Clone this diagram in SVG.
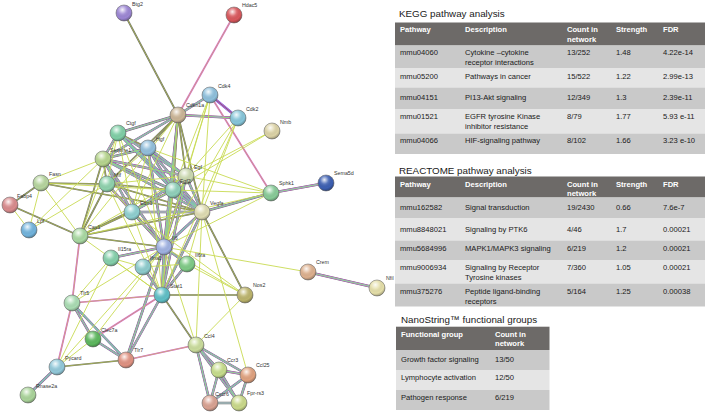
<svg xmlns="http://www.w3.org/2000/svg" width="706" height="415" viewBox="0 0 706 415">
<style>
.lbl{font-family:"Liberation Sans",Arial,sans-serif;font-size:5.3px;fill:#333}
.ttl{font-family:"Liberation Sans",Arial,sans-serif;font-size:9.8px;fill:#1a1a1a}
.th{font-family:"Liberation Sans",Arial,sans-serif;font-weight:bold;font-size:7.6px;fill:#fff}
.td{font-family:"Liberation Sans",Arial,sans-serif;font-size:7.6px;fill:#1a1a1a}
.hd{fill:#6d6a68}.rd{fill:#c9c9c9}.rl{fill:#e5e5e5}
.b{stroke:#6a6a6a;stroke-width:.6}
.shine{fill:url(#sh)}
.k4{stroke:#6a6a6a;stroke-width:2.5;fill:none}
.k2{stroke:#6a6a6a;stroke-width:1.7;fill:none}
.m2{stroke:#d85ad8;stroke-width:1.7;fill:none}
.m3{stroke:#d85ad8;stroke-width:1.8;fill:none}
.c2{stroke:#4cc8e2;stroke-width:1.1;fill:none}
.b4{stroke:#6262da;stroke-width:2.8;fill:none}
.k1{stroke:#6a6a6a;stroke-width:.9;fill:none}
.y{stroke:#c6d84a;stroke-width:.6;fill:none}
.y1{stroke:#c8da52;stroke-width:.9;fill:none}
</style>
<defs>
<radialGradient id="sh" cx="0.4" cy="0.3" r="0.75">
<stop offset="0" stop-color="#fff" stop-opacity="0.9"/>
<stop offset="0.35" stop-color="#fff" stop-opacity="0.15"/>
<stop offset="0.7" stop-color="#000" stop-opacity="0"/>
<stop offset="1" stop-color="#000" stop-opacity="0.35"/>
</radialGradient>
</defs>
<rect width="706" height="415" fill="#fff"/>
<g id="connectors">
<g class="k4"><g id="E-m">
<line x1="178" y1="115" x2="210" y2="95"/>
<line x1="178" y1="115" x2="238" y2="118"/>
<line x1="178" y1="115" x2="118" y2="133"/>
<line x1="178" y1="115" x2="103" y2="159"/>
<line x1="178" y1="115" x2="164" y2="247"/>
<line x1="178" y1="115" x2="162" y2="295"/>
<line x1="271" y1="193" x2="326" y2="183"/>
<line x1="271" y1="193" x2="202" y2="212"/>
<line x1="118" y1="133" x2="103" y2="159"/>
<line x1="118" y1="133" x2="186" y2="176"/>
<line x1="118" y1="133" x2="173" y2="190"/>
<line x1="118" y1="133" x2="202" y2="212"/>
<line x1="148" y1="148" x2="103" y2="159"/>
<line x1="148" y1="148" x2="186" y2="176"/>
<line x1="148" y1="148" x2="173" y2="190"/>
<line x1="148" y1="148" x2="202" y2="212"/>
<line x1="148" y1="148" x2="164" y2="247"/>
<line x1="103" y1="159" x2="186" y2="176"/>
<line x1="103" y1="159" x2="173" y2="190"/>
<line x1="103" y1="159" x2="202" y2="212"/>
<line x1="103" y1="159" x2="132" y2="212"/>
<line x1="103" y1="159" x2="164" y2="247"/>
<line x1="107" y1="184" x2="164" y2="247"/>
<line x1="186" y1="176" x2="173" y2="190"/>
<line x1="186" y1="176" x2="202" y2="212"/>
<line x1="186" y1="176" x2="132" y2="212"/>
<line x1="186" y1="176" x2="164" y2="247"/>
<line x1="186" y1="176" x2="162" y2="295"/>
<line x1="173" y1="190" x2="202" y2="212"/>
<line x1="173" y1="190" x2="132" y2="212"/>
<line x1="173" y1="190" x2="164" y2="247"/>
<line x1="132" y1="212" x2="202" y2="212"/>
<line x1="132" y1="212" x2="164" y2="247"/>
<line x1="202" y1="212" x2="164" y2="247"/>
<line x1="202" y1="212" x2="162" y2="295"/>
<line x1="164" y1="247" x2="187" y2="264"/>
<line x1="164" y1="247" x2="162" y2="295"/>
<line x1="164" y1="247" x2="111" y2="258"/>
<line x1="164" y1="247" x2="143" y2="267"/>
<line x1="164" y1="247" x2="126" y2="360"/>
<line x1="187" y1="264" x2="162" y2="295"/>
<line x1="143" y1="267" x2="162" y2="295"/>
<line x1="162" y1="295" x2="126" y2="360"/>
<line x1="196" y1="345" x2="219" y2="370"/>
<line x1="196" y1="345" x2="248" y2="375"/>
<line x1="196" y1="345" x2="210" y2="403"/>
<line x1="196" y1="345" x2="239" y2="403"/>
<line x1="219" y1="370" x2="248" y2="375"/>
<line x1="219" y1="370" x2="210" y2="403"/>
<line x1="219" y1="370" x2="239" y2="403"/>
<line x1="248" y1="375" x2="239" y2="403"/>
<line x1="248" y1="375" x2="210" y2="403"/>
<line x1="210" y1="403" x2="239" y2="403"/>
<line x1="72" y1="303" x2="93" y2="339"/>
<line x1="72" y1="303" x2="126" y2="360"/>
<line x1="93" y1="339" x2="126" y2="360"/>
<line x1="57" y1="367" x2="28" y2="395"/>
<line x1="308" y1="272" x2="377" y2="288"/>
</g></g>
<g class="k2"><g id="E-tc">
<line x1="124" y1="13" x2="178" y2="115"/>
<line x1="178" y1="115" x2="148" y2="148"/>
<line x1="178" y1="115" x2="107" y2="184"/>
<line x1="178" y1="115" x2="186" y2="176"/>
<line x1="178" y1="115" x2="173" y2="190"/>
<line x1="178" y1="115" x2="202" y2="212"/>
<line x1="118" y1="133" x2="148" y2="148"/>
<line x1="103" y1="159" x2="107" y2="184"/>
<line x1="103" y1="159" x2="80" y2="236"/>
<line x1="107" y1="184" x2="173" y2="190"/>
<line x1="107" y1="184" x2="202" y2="212"/>
<line x1="107" y1="184" x2="80" y2="236"/>
<line x1="107" y1="184" x2="41" y2="183"/>
<line x1="173" y1="190" x2="80" y2="236"/>
<line x1="132" y1="212" x2="80" y2="236"/>
<line x1="202" y1="212" x2="80" y2="236"/>
<line x1="202" y1="212" x2="245" y2="295"/>
<line x1="10" y1="205" x2="80" y2="236"/>
<line x1="41" y1="183" x2="202" y2="212"/>
<line x1="10" y1="205" x2="41" y2="183"/>
<line x1="164" y1="247" x2="80" y2="236"/>
<line x1="162" y1="295" x2="245" y2="295"/>
<line x1="162" y1="295" x2="196" y2="345"/>
<line x1="126" y1="360" x2="57" y2="367"/>
</g></g>
<g class="m2"><g id="E-tm">
<line x1="234" y1="15" x2="178" y2="115"/>
<line x1="210" y1="95" x2="271" y2="193"/>
<line x1="162" y1="295" x2="72" y2="303"/>
<line x1="162" y1="295" x2="93" y2="339"/>
<line x1="196" y1="345" x2="126" y2="360"/>
<line x1="72" y1="303" x2="57" y2="367"/>
<line x1="80" y1="236" x2="72" y2="303"/>
</g></g>
<g class="b4"><g id="E-mb">
<line x1="210" y1="95" x2="238" y2="118"/>
</g></g>
<use href="#E-m" class="m3"/>
<use href="#E-mb" class="m3"/>
<use href="#E-m" class="c2"/>
<use href="#E-mb" class="k1"/>
<use href="#E-m" class="y"/>
<use href="#E-tc" class="y"/>
<use href="#E-tm" class="y"/>
<g class="y1"><g id="E-t">
<line x1="178" y1="115" x2="132" y2="212"/>
<line x1="178" y1="115" x2="80" y2="236"/>
<line x1="210" y1="95" x2="186" y2="176"/>
<line x1="210" y1="95" x2="173" y2="190"/>
<line x1="210" y1="95" x2="202" y2="212"/>
<line x1="210" y1="95" x2="164" y2="247"/>
<line x1="238" y1="118" x2="202" y2="212"/>
<line x1="238" y1="118" x2="186" y2="176"/>
<line x1="238" y1="118" x2="164" y2="247"/>
<line x1="238" y1="118" x2="162" y2="295"/>
<line x1="272" y1="131" x2="186" y2="176"/>
<line x1="272" y1="131" x2="173" y2="190"/>
<line x1="271" y1="193" x2="186" y2="176"/>
<line x1="271" y1="193" x2="173" y2="190"/>
<line x1="271" y1="193" x2="164" y2="247"/>
<line x1="271" y1="193" x2="80" y2="236"/>
<line x1="271" y1="193" x2="148" y2="148"/>
<line x1="118" y1="133" x2="107" y2="184"/>
<line x1="118" y1="133" x2="132" y2="212"/>
<line x1="118" y1="133" x2="164" y2="247"/>
<line x1="118" y1="133" x2="80" y2="236"/>
<line x1="148" y1="148" x2="107" y2="184"/>
<line x1="148" y1="148" x2="132" y2="212"/>
<line x1="148" y1="148" x2="162" y2="295"/>
<line x1="103" y1="159" x2="29" y2="230"/>
<line x1="103" y1="159" x2="41" y2="183"/>
<line x1="107" y1="184" x2="186" y2="176"/>
<line x1="107" y1="184" x2="132" y2="212"/>
<line x1="107" y1="184" x2="162" y2="295"/>
<line x1="186" y1="176" x2="80" y2="236"/>
<line x1="173" y1="190" x2="162" y2="295"/>
<line x1="132" y1="212" x2="162" y2="295"/>
<line x1="132" y1="212" x2="245" y2="295"/>
<line x1="202" y1="212" x2="187" y2="264"/>
<line x1="202" y1="212" x2="196" y2="345"/>
<line x1="164" y1="247" x2="245" y2="295"/>
<line x1="164" y1="247" x2="308" y2="272"/>
<line x1="164" y1="247" x2="196" y2="345"/>
<line x1="164" y1="247" x2="72" y2="303"/>
<line x1="164" y1="247" x2="93" y2="339"/>
<line x1="164" y1="247" x2="57" y2="367"/>
<line x1="187" y1="264" x2="245" y2="295"/>
<line x1="187" y1="264" x2="143" y2="267"/>
<line x1="111" y1="258" x2="143" y2="267"/>
<line x1="111" y1="258" x2="162" y2="295"/>
<line x1="111" y1="258" x2="72" y2="303"/>
<line x1="162" y1="295" x2="80" y2="236"/>
<line x1="245" y1="295" x2="196" y2="345"/>
<line x1="248" y1="375" x2="202" y2="212"/>
<line x1="93" y1="339" x2="57" y2="367"/>
<line x1="57" y1="367" x2="111" y2="258"/>
<line x1="10" y1="205" x2="29" y2="230"/>
<line x1="41" y1="183" x2="29" y2="230"/>
<line x1="41" y1="183" x2="80" y2="236"/>
<line x1="41" y1="183" x2="173" y2="190"/>
<line x1="29" y1="230" x2="107" y2="184"/>
</g></g>
</g>
<g id="nodes">
<g id="node-Btg2"><circle class="b" cx="124" cy="13" r="8" fill="#9c86d4"/><circle class="shine" cx="124" cy="13" r="8"/><text class="lbl" x="132" y="6">Btg2</text></g>
<g id="node-Hdac5"><circle class="b" cx="234" cy="15" r="8" fill="#d9575c"/><circle class="shine" cx="234" cy="15" r="8"/><text class="lbl" x="242" y="7">Hdac5</text></g>
<g id="node-Cdkn1a"><circle class="b" cx="178" cy="115" r="8" fill="#cbb596"/><circle class="shine" cx="178" cy="115" r="8"/><text class="lbl" x="186" y="107">Cdkn1a</text></g>
<g id="node-Cdk4"><circle class="b" cx="210" cy="95" r="8" fill="#8ec0dc"/><circle class="shine" cx="210" cy="95" r="8"/><text class="lbl" x="218" y="88">Cdk4</text></g>
<g id="node-Cdk2"><circle class="b" cx="238" cy="118" r="8" fill="#86c6da"/><circle class="shine" cx="238" cy="118" r="8"/><text class="lbl" x="246" y="111">Cdk2</text></g>
<g id="node-Nmb"><circle class="b" cx="272" cy="131" r="8" fill="#dcd3a6"/><circle class="shine" cx="272" cy="131" r="8"/><text class="lbl" x="280" y="124">Nmb</text></g>
<g id="node-Ctgf"><circle class="b" cx="118" cy="133" r="8" fill="#7fcfa6"/><circle class="shine" cx="118" cy="133" r="8"/><text class="lbl" x="126" y="125">Ctgf</text></g>
<g id="node-Hgf"><circle class="b" cx="148" cy="148" r="8" fill="#92bfdc"/><circle class="shine" cx="148" cy="148" r="8"/><text class="lbl" x="156" y="141">Hgf</text></g>
<g id="node-Serpine1"><circle class="b" cx="103" cy="159" r="8" fill="#b7d58e"/><circle class="shine" cx="103" cy="159" r="8"/><text class="lbl" x="110" y="152">Serpine1</text></g>
<g id="node-Egf"><circle class="b" cx="186" cy="176" r="8" fill="#cbd9b0"/><circle class="shine" cx="186" cy="176" r="8"/><text class="lbl" x="194" y="169">Egf</text></g>
<g id="node-Fgf2"><circle class="b" cx="173" cy="190" r="8" fill="#90d0ba"/><circle class="shine" cx="173" cy="190" r="8"/><text class="lbl" x="180" y="183">Fgf2</text></g>
<g id="node-Mif"><circle class="b" cx="107" cy="184" r="8" fill="#8fd2ad"/><circle class="shine" cx="107" cy="184" r="8"/><text class="lbl" x="114" y="177">Mif</text></g>
<g id="node-Fasn"><circle class="b" cx="41" cy="183" r="8" fill="#b6d59e"/><circle class="shine" cx="41" cy="183" r="8"/><text class="lbl" x="49" y="176">Fasn</text></g>
<g id="node-Fabp4"><circle class="b" cx="10" cy="205" r="8" fill="#d98b8d"/><circle class="shine" cx="10" cy="205" r="8"/><text class="lbl" x="17" y="198">Fabp4</text></g>
<g id="node-Lpl"><circle class="b" cx="29" cy="230" r="8" fill="#72b4dd"/><circle class="shine" cx="29" cy="230" r="8"/><text class="lbl" x="37" y="223">Lpl</text></g>
<g id="node-Cav1"><circle class="b" cx="80" cy="236" r="8" fill="#a9d9a2"/><circle class="shine" cx="80" cy="236" r="8"/><text class="lbl" x="88" y="229">Cav1</text></g>
<g id="node-Edn1"><circle class="b" cx="132" cy="212" r="8" fill="#8fd0d0"/><circle class="shine" cx="132" cy="212" r="8"/><text class="lbl" x="140" y="205">Edn1</text></g>
<g id="node-Vegfa"><circle class="b" cx="202" cy="212" r="8" fill="#dfdcb2"/><circle class="shine" cx="202" cy="212" r="8"/><text class="lbl" x="210" y="205">Vegfa</text></g>
<g id="node-Il6"><circle class="b" cx="164" cy="247" r="8" fill="#a0b2e2"/><circle class="shine" cx="164" cy="247" r="8"/><text class="lbl" x="172" y="240">Il6</text></g>
<g id="node-Il15ra"><circle class="b" cx="111" cy="258" r="8" fill="#85d0ab"/><circle class="shine" cx="111" cy="258" r="8"/><text class="lbl" x="118" y="251">Il15ra</text></g>
<g id="node-Ifna1"><circle class="b" cx="143" cy="267" r="8" fill="#8dcccd"/><circle class="shine" cx="143" cy="267" r="8"/><text class="lbl" x="150" y="260">Ifna1</text></g>
<g id="node-Il6ra"><circle class="b" cx="187" cy="264" r="8" fill="#7fcb86"/><circle class="shine" cx="187" cy="264" r="8"/><text class="lbl" x="195" y="257">Il6ra</text></g>
<g id="node-Stat1"><circle class="b" cx="162" cy="295" r="8" fill="#5fbfc6"/><circle class="shine" cx="162" cy="295" r="8"/><text class="lbl" x="170" y="288">Stat1</text></g>
<g id="node-Sphk1"><circle class="b" cx="271" cy="193" r="8" fill="#88cb98"/><circle class="shine" cx="271" cy="193" r="8"/><text class="lbl" x="279" y="185">Sphk1</text></g>
<g id="node-Sema5d"><circle class="b" cx="326" cy="183" r="8" fill="#3c5fb2"/><circle class="shine" cx="326" cy="183" r="8"/><text class="lbl" x="334" y="175">Sema5d</text></g>
<g id="node-Crem"><circle class="b" cx="308" cy="272" r="8" fill="#ddb08e"/><circle class="shine" cx="308" cy="272" r="8"/><text class="lbl" x="316" y="264">Crem</text></g>
<g id="node-Nfil"><circle class="b" cx="377" cy="288" r="8" fill="#e5dfa9"/><circle class="shine" cx="377" cy="288" r="8"/><text class="lbl" x="386" y="280">Nfil</text></g>
<g id="node-Nos2"><circle class="b" cx="245" cy="295" r="8" fill="#bcb46c"/><circle class="shine" cx="245" cy="295" r="8"/><text class="lbl" x="253" y="287">Nos2</text></g>
<g id="node-Ccl4"><circle class="b" cx="196" cy="345" r="8" fill="#cadc9c"/><circle class="shine" cx="196" cy="345" r="8"/><text class="lbl" x="204" y="338">Ccl4</text></g>
<g id="node-Ccr3"><circle class="b" cx="219" cy="370" r="8" fill="#c7dd8c"/><circle class="shine" cx="219" cy="370" r="8"/><text class="lbl" x="227" y="362">Ccr3</text></g>
<g id="node-Ccl25"><circle class="b" cx="248" cy="375" r="8" fill="#e0a27f"/><circle class="shine" cx="248" cy="375" r="8"/><text class="lbl" x="256" y="367">Ccl25</text></g>
<g id="node-Cxcr6"><circle class="b" cx="210" cy="403" r="8" fill="#d9a292"/><circle class="shine" cx="210" cy="403" r="8"/><text class="lbl" x="215" y="396">Cxcr6</text></g>
<g id="node-Fpr-rs3"><circle class="b" cx="239" cy="403" r="8" fill="#cad98a"/><circle class="shine" cx="239" cy="403" r="8"/><text class="lbl" x="247" y="395">Fpr-rs3</text></g>
<g id="node-Tlr5"><circle class="b" cx="72" cy="303" r="8" fill="#aadcb3"/><circle class="shine" cx="72" cy="303" r="8"/><text class="lbl" x="80" y="295">Tlr5</text></g>
<g id="node-Clec7a"><circle class="b" cx="93" cy="339" r="8" fill="#5db85e"/><circle class="shine" cx="93" cy="339" r="8"/><text class="lbl" x="101" y="332">Clec7a</text></g>
<g id="node-Tlr7"><circle class="b" cx="126" cy="360" r="8" fill="#e09282"/><circle class="shine" cx="126" cy="360" r="8"/><text class="lbl" x="134" y="352">Tlr7</text></g>
<g id="node-Pycard"><circle class="b" cx="57" cy="367" r="8" fill="#92c9da"/><circle class="shine" cx="57" cy="367" r="8"/><text class="lbl" x="65" y="360">Pycard</text></g>
<g id="node-Rnase2a"><circle class="b" cx="28" cy="395" r="8" fill="#aad49a"/><circle class="shine" cx="28" cy="395" r="8"/><text class="lbl" x="36" y="388">Rnase2a</text></g>
</g>
<g id="kegg">
<text class="ttl" x="399" y="17">KEGG pathway analysis</text>
<rect class="hd" x="395" y="22.5" width="310" height="23"/>
<rect class="rd" x="395" y="45.5" width="310" height="23"/>
<rect class="rl" x="395" y="68.5" width="310" height="19"/>
<rect class="rd" x="395" y="87.5" width="310" height="22"/>
<rect class="rl" x="395" y="109.5" width="310" height="24"/>
<rect class="rd" x="395" y="133.5" width="310" height="20.5"/>
<text class="th" x="400" y="32">Pathway</text><text class="th" x="465" y="32">Description</text><text class="th" x="567" y="32">Count in</text><text class="th" x="567" y="41.5">network</text><text class="th" x="616" y="32">Strength</text><text class="th" x="663" y="32">FDR</text>
<text class="td" x="400" y="55.4">mmu04060</text><text class="td" x="465" y="55.4">Cytokine –cytokine</text><text class="td" x="465" y="64.8">receptor interactions</text><text class="td" x="567" y="55.4">13/252</text><text class="td" x="616" y="55.4">1.48</text><text class="td" x="663" y="55.4">4.22e-14</text>
<text class="td" x="400" y="78.7">mmu05200</text><text class="td" x="465" y="78.7">Pathways in cancer</text><text class="td" x="567" y="78.7">15/522</text><text class="td" x="616" y="78.7">1.22</text><text class="td" x="663" y="78.7">2.99e-13</text>
<text class="td" x="400" y="100">mmu04151</text><text class="td" x="465" y="100">PI13-Akt signaling</text><text class="td" x="567" y="100">12/349</text><text class="td" x="616" y="100">1.3</text><text class="td" x="663" y="100">2.39e-11</text>
<text class="td" x="400" y="119.4">mmu01521</text><text class="td" x="465" y="119.4">EGFR tyrosine Kinase</text><text class="td" x="465" y="129">inhibitor resistance</text><text class="td" x="567" y="119.4">8/79</text><text class="td" x="616" y="119.4">1.77</text><text class="td" x="663" y="119.4">5.93 e-11</text>
<text class="td" x="400" y="142.7">mmu04066</text><text class="td" x="465" y="142.7">HIF-signaling pathway</text><text class="td" x="567" y="142.7">8/102</text><text class="td" x="616" y="142.7">1.66</text><text class="td" x="663" y="142.7">3.23 e-10</text>
</g>
<g id="reactome">
<text class="ttl" x="399" y="174.2">REACTOME pathway analysis</text>
<rect class="hd" x="395" y="176.5" width="310" height="21"/>
<rect class="rd" x="395" y="197.5" width="310" height="21"/>
<rect class="rl" x="395" y="218.5" width="310" height="22"/>
<rect class="rd" x="395" y="240.5" width="310" height="19.5"/>
<rect class="rl" x="395" y="260" width="310" height="23.5"/>
<rect class="rd" x="395" y="283.5" width="310" height="23"/>
<text class="th" x="400" y="187">Pathway</text><text class="th" x="465" y="187">Description</text><text class="th" x="567" y="187">Count in</text><text class="th" x="567" y="195.5">network</text><text class="th" x="616" y="187">Strength</text><text class="th" x="663" y="187">FDR</text>
<text class="td" x="400" y="210">mmu162582</text><text class="td" x="465" y="210">Signal transduction</text><text class="td" x="567" y="210">19/2430</text><text class="td" x="616" y="210">0.66</text><text class="td" x="663" y="210">7.6e-7</text>
<text class="td" x="400" y="231.7">mmu8848021</text><text class="td" x="465" y="231.7">Signaling by PTK6</text><text class="td" x="567" y="231.7">4/46</text><text class="td" x="616" y="231.7">1.7</text><text class="td" x="663" y="231.7">0.00021</text>
<text class="td" x="400" y="251">mmu5684996</text><text class="td" x="465" y="251">MAPK1/MAPK3 signaling</text><text class="td" x="567" y="251">6/219</text><text class="td" x="616" y="251">1.2</text><text class="td" x="663" y="251">0.00021</text>
<text class="td" x="400" y="270">mmu9006934</text><text class="td" x="465" y="270">Signaling by Receptor</text><text class="td" x="465" y="280">Tyrosine kinases</text><text class="td" x="567" y="270">7/360</text><text class="td" x="616" y="270">1.05</text><text class="td" x="663" y="270">0.00021</text>
<text class="td" x="400" y="294.4">mmu375276</text><text class="td" x="465" y="294.4">Peptide ligand-binding</text><text class="td" x="465" y="304">receptors</text><text class="td" x="567" y="294.4">5/164</text><text class="td" x="616" y="294.4">1.25</text><text class="td" x="663" y="294.4">0.00038</text>
</g>
<g id="nanostring">
<text class="ttl" x="401" y="322.5">NanoString™ functional groups</text>
<rect class="hd" x="396" y="326.7" width="153.5" height="23.3"/>
<rect class="rd" x="396" y="350" width="153.5" height="20"/>
<rect class="rl" x="396" y="370" width="153.5" height="20"/>
<rect class="rd" x="396" y="390" width="153.5" height="20"/>
<text class="th" x="401" y="337">Functional group</text><text class="th" x="495" y="337">Count in</text><text class="th" x="495" y="346.4">network</text>
<text class="td" x="401" y="361.7">Growth factor signaling</text><text class="td" x="495" y="361.7">13/50</text>
<text class="td" x="401" y="380.4">Lymphocyte activation</text><text class="td" x="495" y="380.4">12/50</text>
<text class="td" x="401" y="399.7">Pathogen response</text><text class="td" x="495" y="399.7">6/219</text>
</g>
</svg>
